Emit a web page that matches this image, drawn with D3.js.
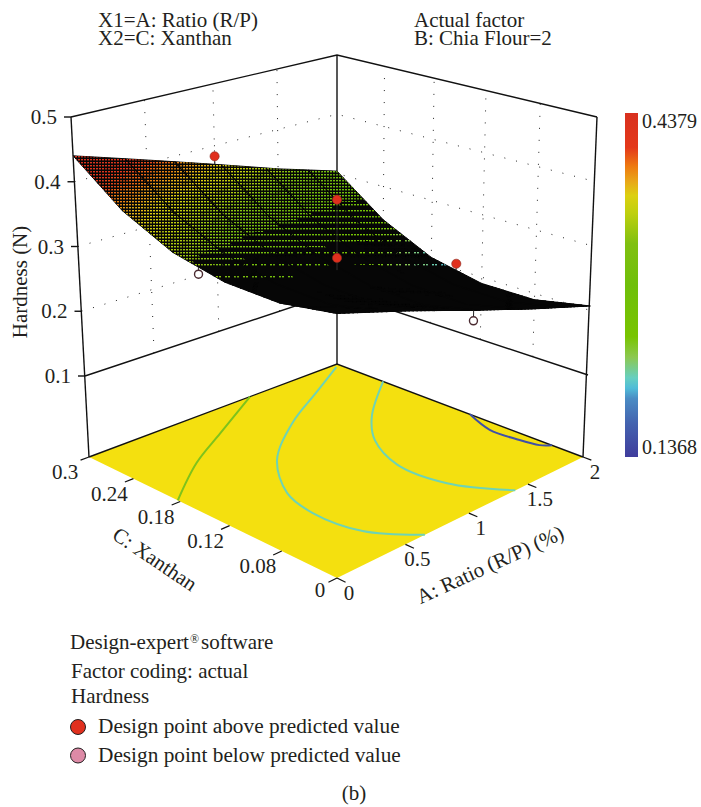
<!DOCTYPE html>
<html>
<head>
<meta charset="utf-8">
<script src="https://cdn.jsdelivr.net/npm/d3@7"></script>
<style>
    body { margin: 0; background: #fff; }
    text { font-family: "Liberation Serif", serif; fill: #231f20; font-size: 21px; }
</style>
</head>
<body>
<svg class="chart" width="701" height="807"></svg>
<script>
const ratioGrid = [0, 0.5, 1, 1.5, 2];
const xanthanGrid = [0, 0.06, 0.12, 0.18, 0.24, 0.3];
const hardnessGrid = [
    [0.338, 0.324, 0.326, 0.343, 0.380, 0.440],
    [0.305, 0.285, 0.288, 0.308, 0.345, 0.405],
    [0.270, 0.250, 0.253, 0.273, 0.310, 0.370],
    [0.237, 0.217, 0.219, 0.238, 0.275, 0.335],
    [0.207, 0.190, 0.190, 0.207, 0.245, 0.304]
];

const ratioTicks = [0, 0.5, 1, 1.5, 2];
const ratioTickLabels = ["0", "0.5", "1", "1.5", "2"];
const xanthanTicks = [0, 0.06, 0.12, 0.18, 0.24, 0.3];
const xanthanTickLabels = ["0", "0.08", "0.12", "0.18", "0.24", "0.3"];
const hardnessTicks = [0.1, 0.2, 0.3, 0.4, 0.5];

// Design points
const designRatio = [1, 1, 1, 2, 0, 1];
const designXanthan = [0.3, 0.15, 0.15, 0.15, 0.15, 0];
const designHardness = [0.383, 0.372, 0.282, 0.209, 0.324, 0.2545];
const designAbove = [true, true, true, true, false, false];

// Contours on the floor, [ratio, xanthan]
const contourColours = ["#7ec31c", "#6fd3b4", "#6fd3b4", "#3f50a8"];
const contourRatio = [
    [1.24, 0.75, 0.38, 0],
    [1.96, 1.58, 1.15, 0.73, 0.48, 0.41, 0.45, 0.65],
    [2, 1.55, 1.32, 1.17, 1.19, 1.39],
    [2, 1.91, 1.92, 1.95, 2]
];
const contourXanthan = [
    [0.3, 0.258, 0.226, 0.183],
    [0.295, 0.264, 0.229, 0.182, 0.13, 0.089, 0.039, 0],
    [0.238, 0.188, 0.151, 0.103, 0.049, 0],
    [0.129, 0.094, 0.064, 0.042, 0.034]
];

const colourPositions = [0, 0.1, 0.155, 0.2, 0.24, 0.29, 0.38, 0.5, 0.65, 0.71, 0.77, 0.8, 0.83, 0.9, 1];
const colourValues = ["#d8301f", "#e4381a", "#ee7a10", "#e8a818", "#dcd010", "#bfd00e", "#80c010", "#6fbf0a",
    "#78c400", "#8cc850", "#66cfc0", "#50bcd8", "#4a8cc4", "#4464b0", "#3f3c9c"];
const hardnessMax = 0.4379;
const hardnessMin = 0.1368;

const legendLabels = ["Design point above predicted value", "Design point below predicted value"];
const legendColours = ["#e0301e", "#dd8aa6"];

const svg = d3.select("svg.chart");
const defs = svg.append("defs");

const ratioScale = d3.scaleLinear().domain([0, 2]).range([0, 1]);
const xanthanScale = d3.scaleLinear().domain([0, 0.3]).range([0, 1]);
const hardnessScale = d3.scaleLinear().domain([0.1, 0.5]).range([0, 1]);
const colourScale = d3.scaleLinear()
    .domain(colourPositions.map(function (p) { return hardnessMax - p * (hardnessMax - hardnessMin); }))
    .range(colourValues);

// Maps the unit square on a four sided shape: front, right, back, left
function quadMap(p00, p10, p11, p01) {
    const sx = p00[0] - p10[0] + p11[0] - p01[0], sy = p00[1] - p10[1] + p11[1] - p01[1];
    const dx1 = p10[0] - p11[0], dy1 = p10[1] - p11[1], dx2 = p01[0] - p11[0], dy2 = p01[1] - p11[1];
    const det = dx1 * dy2 - dx2 * dy1;
    const g = (sx * dy2 - dx2 * sy) / det, h = (dx1 * sy - sx * dy1) / det;
    return function (u, v) {
        const w = g * u + h * v + 1;
        return [
            (p10[0] - p00[0] + g * p10[0]) * u / w + (p01[0] - p00[0] + h * p01[0]) * v / w + p00[0] / w,
            (p10[1] - p00[1] + g * p10[1]) * u / w + (p01[1] - p00[1] + h * p01[1]) * v / w + p00[1] / w
        ];
    };
}

const floorMap = quadMap([337, 578], [583, 457], [337, 364], [89, 457]);
const lowMap = quadMap([337, 484], [588, 375], [337, 292], [85, 376]);
const highMap = quadMap([337, 197.5], [597, 117], [337, 55], [71, 117]);

function floorPoint(ratio, xanthan) {
    return floorMap(ratioScale(ratio), xanthanScale(xanthan));
}

function boxPoint(ratio, xanthan, hardness) {
    const a = lowMap(ratioScale(ratio), xanthanScale(xanthan));
    const b = highMap(ratioScale(ratio), xanthanScale(xanthan));
    const t = hardnessScale(hardness);
    return [a[0] + (b[0] - a[0]) * t, a[1] + (b[1] - a[1]) * t];
}

// Height of the surface between the table's nodes
function surface(ratio, xanthan) {
    const i = Math.min(d3.bisectRight(ratioGrid, ratio) - 1, ratioGrid.length - 2);
    const j = Math.min(d3.bisectRight(xanthanGrid, xanthan) - 1, xanthanGrid.length - 2);
    const s = (ratio - ratioGrid[i]) / (ratioGrid[i + 1] - ratioGrid[i]);
    const t = (xanthan - xanthanGrid[j]) / (xanthanGrid[j + 1] - xanthanGrid[j]);
    return (1 - s) * ((1 - t) * hardnessGrid[i][j] + t * hardnessGrid[i][j + 1])
        + s * ((1 - t) * hardnessGrid[i + 1][j] + t * hardnessGrid[i + 1][j + 1]);
}

function line(points, colour, width, dash) {
    return svg.append("path")
        .attr("d", d3.line()(points))
        .attr("fill", "none")
        .attr("stroke", colour)
        .attr("stroke-width", width)
        .attr("stroke-dasharray", dash || null);
}

// Walls, dotted grid
const gridDash = "1 11";
hardnessTicks.slice(1, 4).forEach(function (z) {
    line([boxPoint(0, 0.3, z), boxPoint(2, 0.3, z), boxPoint(2, 0, z)], "#222", 1, gridDash);
});
[0.5, 1, 1.5].forEach(function (a) {
    line([boxPoint(a, 0.3, 0.1), boxPoint(a, 0.3, 0.5)], "#222", 1, gridDash);
});
[0.06, 0.12, 0.18, 0.24].forEach(function (c) {
    line([boxPoint(2, c, 0.1), boxPoint(2, c, 0.5)], "#222", 1, gridDash);
});

line([boxPoint(0, 0.3, 0.5), boxPoint(2, 0.3, 0.5), boxPoint(2, 0, 0.5)], "#111", 1.4);
line([boxPoint(0, 0.3, 0.1), boxPoint(2, 0.3, 0.1), boxPoint(2, 0, 0.1)], "#111", 1.4);
line([boxPoint(0, 0.3, 0.5), floorPoint(0, 0.3)], "#111", 1.4);
line([boxPoint(2, 0.3, 0.5), floorPoint(2, 0.3)], "#111", 1.4);
line([boxPoint(2, 0, 0.5), floorPoint(2, 0)], "#111", 1.4);

// Hardness axis
hardnessTicks.forEach(function (z) {
    const p = boxPoint(0, 0.3, z);
    line([[p[0] - 7, p[1]], [p[0], p[1]]], "#111", 1.4);
    svg.append("text")
        .attr("x", p[0] - 14)
        .attr("y", p[1] + 7)
        .attr("text-anchor", "end")
        .text(d3.format(".1f")(z));
});
svg.append("text")
    .attr("transform", "translate(27,282) rotate(-90)")
    .attr("text-anchor", "middle")
    .text("Hardness (N)");

// Floor
svg.append("path")
    .attr("d", d3.line()([floorPoint(0, 0), floorPoint(2, 0), floorPoint(2, 0.3), floorPoint(0, 0.3)]) + "Z")
    .attr("fill", "#f4e00f");
line([floorPoint(0, 0.3), floorPoint(2, 0.3), floorPoint(2, 0)], "#111", 1.4);

contourRatio.forEach(function (ratios, k) {
    const pts = ratios.map(function (a, i) { return floorPoint(a, contourXanthan[k][i]); });
    svg.append("path")
        .attr("d", d3.line().curve(d3.curveCatmullRom.alpha(0.5))(pts))
        .attr("fill", "none")
        .attr("stroke", contourColours[k])
        .attr("stroke-width", 2);
});

xanthanTicks.forEach(function (c, i) {
    line([floorPoint(0, c), floorPoint(-0.06, c)], "#111", 1.2);
    const p = floorPoint(0, c);
    svg.append("text")
        .attr("x", p[0] + (i == 0 ? -17 : -24))
        .attr("y", p[1] + (i == 0 ? 19 : 22))
        .attr("text-anchor", "middle")
        .text(xanthanTickLabels[i]);
});
ratioTicks.forEach(function (a, i) {
    line([floorPoint(a, 0), floorPoint(a, -0.009)], "#111", 1.2);
    const p = floorPoint(a, 0);
    svg.append("text")
        .attr("x", p[0] + 12)
        .attr("y", p[1] + 22)
        .attr("text-anchor", "middle")
        .text(ratioTickLabels[i]);
});

svg.append("text")
    .attr("transform", "translate(151,565) rotate(34)")
    .attr("text-anchor", "middle")
    .text("C: Xanthan");
svg.append("text")
    .attr("transform", "translate(493,571) rotate(-24.6)")
    .attr("text-anchor", "middle")
    .text("A: Ratio (R/P) (%)");

// Surface: black sheet, then small cells filled with a pattern of lit dots
const steps = 70;
const surfaceLayer = svg.append("g");

const limitX = [75, 150, 200, 260, 337, 400, 445, 470];
const denseLimit = d3.scaleLinear().domain(limitX).range([300, 300, 255, 232, 205, 190, 180, 170]);
const midLimit = d3.scaleLinear().domain(limitX).range([300, 300, 270, 255, 245, 235, 225, 200]);
const lastLimit = d3.scaleLinear().domain(limitX).range([300, 300, 285, 287, 262, 268, 268, 240]);

function dotPattern(level, colour) {
    const id = "dots-" + level + "-" + colour.replace(/[^0-9a-z]/g, "");
    if (defs.select("#" + id).empty()) {
        const tile = [[3, 3], [6, 6], [9, 12]][level];
        const p = defs.append("pattern")
            .attr("id", id)
            .attr("patternUnits", "userSpaceOnUse")
            .attr("width", tile[0])
            .attr("height", tile[1]);
        const dots = [[0], [0, 3], [0, 3]][level];
        p.selectAll("rect")
            .data(dots)
            .enter().append("rect")
            .attr("x", function (d) { return d; })
            .attr("width", 2)
            .attr("height", 1.4)
            .attr("fill", colour);
    }
    return "url(#" + id + ")";
}

const bands = d3.scaleQuantize().domain([hardnessMin, hardnessMax]).range(d3.range(40));
const cells = [];
for (let i = 0; i < steps; i++) {
    for (let j = 0; j < steps; j++) {
        const a0 = 2 * i / steps, a1 = 2 * (i + 1) / steps;
        const c0 = 0.3 * j / steps, c1 = 0.3 * (j + 1) / steps;
        const corners = [[a0, c0], [a1, c0], [a1, c1], [a0, c1]].map(function (q) {
            return boxPoint(q[0], q[1], surface(q[0], q[1]));
        });
        const x = d3.mean(corners, function (c) { return c[0]; });
        const y = d3.mean(corners, function (c) { return c[1]; });
        const step = (hardnessMax - hardnessMin) / 40;
        const zMid = surface((a0 + a1) / 2, (c0 + c1) / 2);
        let fill = "none";
        if (x <= 470 && y <= lastLimit(x)) {
            const level = y < denseLimit(x) ? 0 : y < midLimit(x) ? 1 : 2;
            fill = dotPattern(level, d3.color(colourScale(hardnessMin + (bands(zMid) + 0.5) * step)).formatHex());
        }
        cells.push({ path: d3.line()(corners) + "Z", fill: fill });
    }
}

surfaceLayer.append("path")
    .attr("d", cells.map(function (d) { return d.path; }).join(""))
    .attr("fill", "#060606")
    .attr("stroke", "#060606")
    .attr("stroke-width", 1);

// One path per pattern, so the cells leave no seams
surfaceLayer.selectAll("path.lit")
    .data(Array.from(d3.group(cells, function (d) { return d.fill; })).filter(function (g) { return g[0] != "none"; }))
    .enter().append("path")
    .attr("class", "lit")
    .attr("d", function (g) { return g[1].map(function (d) { return d.path; }).join(""); })
    .attr("fill", function (g) { return g[0]; });

// Dark lines running across the sheet
[0.35, 0.7, 1.05, 1.4, 1.75].forEach(function (a) {
    const pts = d3.range(0, 0.3001, 0.01).map(function (c) { return boxPoint(a, c, surface(a, c)); });
    line(pts, "#060606", 1.2);
});

// Design points
designRatio.forEach(function (a, i) {
    const c = designXanthan[i];
    const p = boxPoint(a, c, designHardness[i]);
    line([p, boxPoint(a, c, surface(a, c))], "#222", 1);
    svg.append("circle")
        .attr("cx", p[0])
        .attr("cy", p[1])
        .attr("r", designAbove[i] ? 4.6 : 4)
        .attr("fill", designAbove[i] ? "#e0301e" : "#fff")
        .attr("stroke", designAbove[i] ? "#8a2a20" : "#4a2a30")
        .attr("stroke-width", designAbove[i] ? 0.6 : 1.4);
});

// Colour bar
const gradient = defs.append("linearGradient")
    .attr("id", "bar")
    .attr("x1", 0).attr("y1", 0).attr("x2", 0).attr("y2", 1);
colourPositions.forEach(function (p, i) {
    gradient.append("stop").attr("offset", p).attr("stop-color", colourValues[i]);
});
svg.append("rect")
    .attr("x", 625).attr("y", 113)
    .attr("width", 13).attr("height", 344)
    .attr("fill", "url(#bar)");
svg.append("text").attr("x", 642).attr("y", 128).style("font-size", "20px").text(hardnessMax);
svg.append("text").attr("x", 642).attr("y", 454).style("font-size", "20px").text(hardnessMin);

// Header
[["X1=A: Ratio (R/P)", 98, 27], ["X2=C: Xanthan", 98, 45], ["Actual factor", 414, 27], ["B: Chia Flour=2", 414, 45]]
    .forEach(function (t) {
        svg.append("text").attr("x", t[1]).attr("y", t[2]).text(t[0]);
    });

// Notes and legend
const brand = svg.append("text").attr("x", 70).attr("y", 649);
brand.append("tspan").text("Design-expert");
brand.append("tspan").attr("dy", -6).attr("dx", 1).style("font-size", "12px").text("®");
brand.append("tspan").attr("dy", 6).attr("dx", 2).text("software");
svg.append("text").attr("x", 71).attr("y", 678).text("Factor coding: actual");
svg.append("text").attr("x", 71).attr("y", 703).text("Hardness");

legendLabels.forEach(function (label, i) {
    svg.append("circle")
        .attr("cx", 78).attr("cy", 727 + i * 28.5)
        .attr("r", 7.5)
        .attr("fill", legendColours[i])
        .attr("stroke", "#231f20")
        .attr("stroke-width", 1);
    svg.append("text").attr("x", 98).attr("y", 733 + i * 28.5).style("font-size", "21.3px").text(label);
});
svg.append("text").attr("x", 354).attr("y", 800).attr("text-anchor", "middle").text("(b)");
</script>
</body>
</html>
